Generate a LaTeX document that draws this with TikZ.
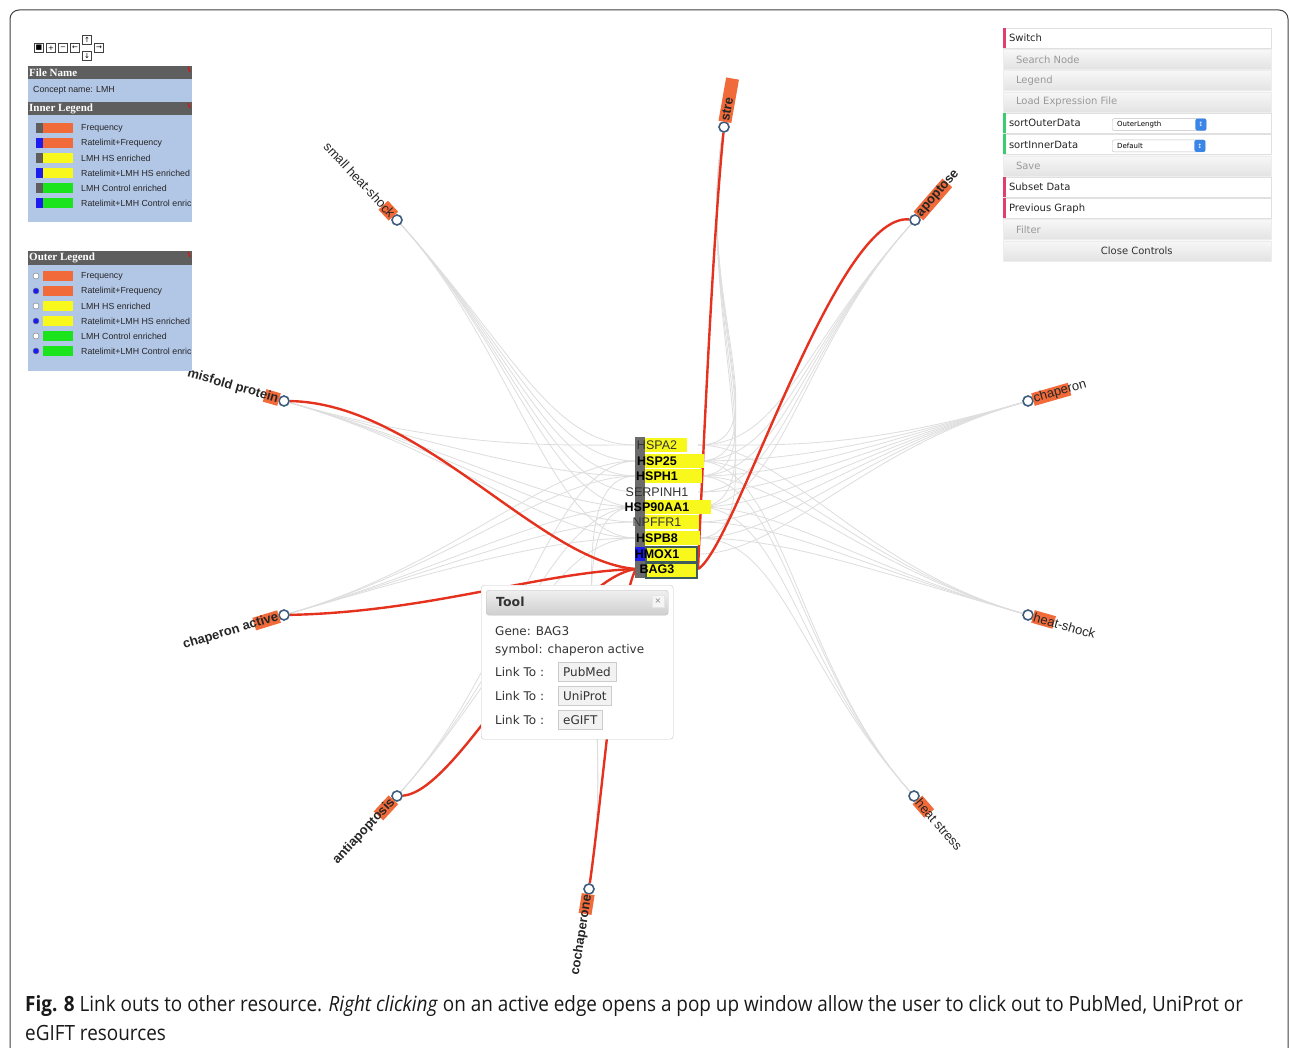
\documentclass[tikz,border=0pt]{standalone}
\usepackage{fontspec}
\setmainfont{Liberation Sans}
\newfontfamily\uifont{DejaVu Sans}
\newfontfamily\headfont{Liberation Serif}
\newfontfamily\capfont[FakeStretch=0.9]{Open Sans}
\usetikzlibrary{calc,positioning}
\pgfdeclarelayer{bg}
\pgfsetlayers{bg,main}

\definecolor{hlorange}{HTML}{F06A3A}
\definecolor{legyellow}{HTML}{F8F81C}
\definecolor{leggreen}{HTML}{1CE41C}
\definecolor{legblue}{HTML}{1C1CEE}
\definecolor{panelblue}{HTML}{B2C6E6}
\definecolor{headgray}{HTML}{5E5E5E}
\definecolor{edgegray}{HTML}{DEDEDE}
\definecolor{edgered}{HTML}{E5321E}
\definecolor{ringblue}{HTML}{3D5D7C}
\definecolor{boxslate}{HTML}{3F5C5C}
\definecolor{stripered}{HTML}{DE3F6E}
\definecolor{stripegreen}{HTML}{3CCB6E}
\definecolor{selblue}{HTML}{3A86E8}

\tikzset{
  grayedge/.style={draw=edgegray, line width=0.85pt},
  rededge/.style={draw=edgered, line width=2.4pt},
  ocirc/.style={circle, draw=ringblue, fill=white, line width=1.6pt, minimum size=10pt, inner sep=0pt},
  hlbar/.style={fill=hlorange, minimum height=13pt, inner sep=0pt},
  olabel-b/.style={font=\fontsize{13}{15}\selectfont\bfseries, text=black!85, inner sep=0pt},
  olabel-n/.style={font=\fontsize{13}{15}\selectfont, text=black!85, inner sep=0pt},
  gname-b/.style={font=\fontsize{12.5}{14}\selectfont\bfseries, inner sep=0pt},
  gname-n/.style={font=\fontsize{12.5}{14}\selectfont, text=black!80, inner sep=0pt},
  genebar/.style={fill=legyellow},
  genebox/.style={fill=legyellow, draw=boxslate, line width=1.5pt, inner sep=0pt, minimum width=51pt, minimum height=15pt, anchor=north west},
  % controls panel
  row-r/.style={fill=white, draw=black!12, minimum width=268pt, minimum height=20pt, inner sep=0pt},
  row-s/.style={row-r},
  row-g/.style={top color=black!3, bottom color=black!11, draw=black!7, minimum width=268pt, minimum height=20pt, inner sep=0pt},
  row-c/.style={row-g},
  stripe-r/.style={fill=stripered},
  stripe-s/.style={fill=stripegreen},
  stripe-g/.style={},
  stripe-c/.style={},
  rowtxt-r/.style={font=\uifont\fontsize{10}{12}\selectfont, text=black!85, anchor=west, xshift=6pt, inner sep=0pt},
  rowtxt-s/.style={rowtxt-r},
  rowtxt-g/.style={font=\uifont\fontsize{10}{12}\selectfont, text=black!40, anchor=west, xshift=13pt, inner sep=0pt},
  rowtxt-c/.style={font=\uifont\fontsize{10}{12}\selectfont, text=black!80, anchor=center, xshift=134pt, inner sep=0pt},
  dropbox/.style={draw=black!25, fill=white, rounded corners=2pt, minimum height=12pt, text width=84pt, inner xsep=5pt, inner ysep=0pt, align=left, anchor=west, font=\uifont\fontsize{7}{8}\selectfont},
  selarrow/.style={fill=selblue, rounded corners=2pt, minimum width=11pt, minimum height=12pt, inner sep=0pt, text=white, font=\uifont\fontsize{6}{6}\selectfont},
  % pop up
  popup/.style={draw=black!22, fill=white, rounded corners=3pt, inner sep=0pt, anchor=north west},
  pophead/.style={top color=black!6, bottom color=black!19, draw=black!25, rounded corners=3pt, inner sep=0pt, anchor=north west},
  poptxt/.style={font=\uifont\fontsize{12}{14}\selectfont, text=black!80, anchor=west, inner sep=0pt},
  linkbtn/.style={draw=black!20, fill=black!5, font=\uifont\fontsize{12}{14}\selectfont, text=black!80, inner xsep=5pt, inner ysep=0pt, minimum height=19pt, anchor=west},
  closebox/.style={fill=black!4, draw=black!10, minimum size=12pt, inner sep=0pt, font=\uifont\fontsize{8}{8}\selectfont, text=black!50},
  % legends
  panel/.style={fill=panelblue, inner sep=0pt, anchor=north west, minimum width=164pt},
  panelhead/.style={fill=headgray, inner sep=0pt, anchor=north west, minimum width=164pt, minimum height=13pt},
  headtext/.style={font=\headfont\fontsize{11}{12}\selectfont\bfseries, text=white, anchor=west, inner sep=1pt},
  legtext/.style={font=\fontsize{8.8}{10}\selectfont, text=black!85, anchor=west, inner sep=0pt},
  icon/.style={draw=black!75, fill=white, minimum size=9pt, inner sep=0pt, font=\uifont\fontsize{7}{7}\selectfont},
  captxt/.style={font=\capfont\fontsize{21}{24}\selectfont, text=black!90, anchor=west, inner sep=0pt},
}

\begin{document}
\begin{tikzpicture}[x=1pt,y=-1pt]
\useasboundingbox (0,0) rectangle (1290,1048);

% frame
\draw[line width=1pt, black!75, rounded corners=9pt] (10,1048) -- (10,10) -- (1288,10) -- (1288,1048);

\coordinate (ctr) at (656,508);

% gene stack
\fill[black!58] (635,437) rectangle (645,578);
\foreach \g/\gy/\yr in {HSPA2/445/687, HSP25/461/704, HSPH1/476/702, SERPINH1/492/645, HSP90AA1/507/711, NPFFR1/522/699, HSPB8/538/700}
  \fill[genebar] (645,\gy-7) rectangle (\yr,\gy+7);
\node[genebox] (HMOX1-box) at (645,546) {};
\node[genebox] (BAG3-box) at (645,562) {};
\fill[legblue] (635,547) rectangle (645,561);

\foreach \g/\gy/\w in {HSPA2/445/n, HSP25/461/b, HSPH1/476/b, SERPINH1/492/n, HSP90AA1/507/b, NPFFR1/522/n, HSPB8/538/b, HMOX1/554/b, BAG3/569/b}{
  \node[gname-\w] (\g) at (657,\gy) {\g};
  \coordinate (\g-l) at (636,\gy);
  \coordinate (\g-r) at (698,\gy);
}

% outer ring
\foreach \n/\ox/\oy in {stre/724/127, apo/915/220, chp/1028/401, hts/1028/615, hst/914/796, coc/589/889, aap/397/796, cha/284/615, mfp/284/401, shs/397/220}
  \node[ocirc] (\n) at (\ox,\oy) {};

% labels, right half
\foreach \n/\a/\len/\txt/\w in {stre/80/44/stre/b, apo/49/44/apoptose/b, chp/16/38/chaperon/n, hts/-16/22/heat-shock/n, hst/-49/18/heat stress/n}{
  \node[hlbar, minimum width=\len pt, rotate=\a, anchor=west] (\n-hl) at ($(\n)+(\a:5pt)$) {};
  \node[olabel-\w, rotate=\a, anchor=west] (\n-txt) at ($(\n)+(\a:6pt)$) {\txt};
}
% labels, left half
\foreach \n/\a/\len/\txt/\w in {coc/81/20/cochaperone/b, aap/47/22/antiapoptosis/b, cha/17/26/chaperon active/b, mfp/-16/15/misfold protein/b, shs/-47/15/small heat-shock/n}{
  \node[hlbar, minimum width=\len pt, rotate=\a, anchor=east] (\n-hl) at ($(\n)+(\a+180:5pt)$) {};
  \node[olabel-\w, rotate=\a, anchor=east] (\n-txt) at ($(\n)+(\a+180:6pt)$) {\txt};
}

\begin{pgfonlayer}{bg}
% inactive edges
\foreach \n/\gs in {shs/{HSPA2,HSP25,HSPH1,SERPINH1,HSP90AA1,HSPB8}, mfp/{HSPA2,HSPH1,HSP90AA1,NPFFR1,HSPB8}, cha/{HSP25,HSPH1,HSP90AA1,NPFFR1,HSPB8}, aap/{HSP25,HSP90AA1,HSPB8}, coc/{HSPH1,HSP90AA1}}
  \foreach \g in \gs
    \draw[grayedge] (\n) .. controls ($(\n)!0.45!(ctr)$) and ($(\g-l)+(-85,0)$) .. (\g-l);
\foreach \n/\gs in {stre/{HSPA2,HSP25,HSPH1,HSP90AA1,HSPB8}, apo/{HSPA2,HSP25,HSPH1,SERPINH1,HSP90AA1}, chp/{HSPA2,HSP25,HSPH1,SERPINH1,HSP90AA1,NPFFR1,HSPB8,HMOX1}, hts/{HSPA2,HSP25,HSPH1,HSP90AA1,NPFFR1,HSPB8}, hst/{HSP25,HSPH1,HSP90AA1,HSPB8}}
  \foreach \g in \gs
    \draw[grayedge] (\n) .. controls ($(\n)!0.45!(ctr)$) and ($(\g-r)+(85,0)$) .. (\g-r);
% active edges
\draw[rededge] (mfp) .. controls (420,403) and (540,562) .. (BAG3-l);
\draw[rededge] (cha) .. controls (430,612) and (540,572) .. (BAG3-l);
\draw[rededge] (aap) .. controls (460,792) and (560,580) .. (BAG3-l);
\draw[rededge] (coc) .. controls (603,790) and (618,600) .. (BAG3-l);
\draw[rededge] (stre) .. controls (712,250) and (703,460) .. (BAG3-r);
\draw[rededge] (apo) .. controls (835,212) and (735,548) .. (BAG3-r);
\end{pgfonlayer}

% pop up window
\node[popup, minimum width=192pt, minimum height=154pt] (tool) at (481,585) {};
\node[pophead, minimum width=182pt, minimum height=25pt] (toolhead) at (486,590) {};
\node[poptxt, font=\uifont\fontsize{12.5}{14}\selectfont\bfseries] (tooltitle) at (496,602) {Tool};
\node[closebox] (toolx) at (658,601) {×};
\node[poptxt] (gene) at (495,631) {Gene: BAG3};
\node[poptxt] (symb) at (495,650) {symbol: chaperon active};
\foreach \b/\by [count=\i] in {PubMed/672, UniProt/696, eGIFT/720}{
  \node[poptxt] (link\i) at (495,\by) {Link To :};
  \node[linkbtn] (btn\i) at (558,\by) {\b};
}

% controls
\foreach \txt/\k [count=\i from 0] in {Switch/r, Search Node/g, Legend/g, Load Expression File/g, sortOuterData/s, sortInnerData/s, Save/g, Subset Data/r, Previous Graph/r, Filter/g, Close Controls/c}{
  \pgfmathsetmacro\ry{38+21.3*\i}
  \node[row-\k] (row\i) at (1137,\ry) {};
  \path[stripe-\k] (1003,\ry-10) rectangle (1006,\ry+10);
  \node[rowtxt-\k] (rowtxt\i) at (row\i.west) {\txt};
}
\node[dropbox] (outersel) at (1112,124.6) {OuterLength};
\node[selarrow] (outerarr) at ($(outersel.east)+(-5.5,0)$) {↕};
\node[dropbox, text width=83pt] (innersel) at (1112,145.9) {Default};
\node[selarrow] (innerarr) at ($(innersel.east)+(-5.5,0)$) {↕};

% tool icons
\foreach \n/\ix/\iy/\sym in {ic1/39/48/■, ic2/51/48/+, ic3/63/48/−, ic4/75/48/←, ic5/87/40/↑, ic6/87/56/↓, ic7/99/48/→}
  \node[icon] (\n) at (\ix,\iy) {\sym};

% inner legend
\node[panel, minimum height=156pt] (filepanel) at (28,66) {};
\node[panelhead] (filehead) at (28,66) {};
\node[headtext] (filetitle) at (filehead.west) {File Name};
\draw[red, line width=1pt] (188,67) -- (190,72);
\node[legtext] (concept) at (33,90) {Concept name: LMH};
\node[panelhead] (innerhead) at (28,102) {};
\node[headtext] (innertitle) at (innerhead.west) {Inner Legend};
\draw[red, line width=1pt] (188,103) -- (190,108);
\foreach \t/\sq/\col [count=\i from 0] in {Frequency/headgray/hlorange, Ratelimit+Frequency/legblue/hlorange, LMH HS enriched/headgray/legyellow, Ratelimit+LMH HS enriched/legblue/legyellow, LMH Control enriched/headgray/leggreen, Ratelimit+LMH Control enric/legblue/leggreen}{
  \pgfmathsetmacro\ey{128+15*\i}
  \fill[\sq] (36,\ey-5) rectangle (43,\ey+5);
  \fill[\col] (43,\ey-5) rectangle (73,\ey+5);
  \node[legtext] (ileg\i) at (81,\ey) {\t};
}

% outer legend
\node[panel, minimum height=120pt] (outerpanel) at (28,251) {};
\node[panelhead, minimum height=14pt] (outerhead) at (28,251) {};
\node[headtext] (outertitle) at (outerhead.west) {Outer Legend};
\draw[red, line width=1pt] (188,252) -- (190,257);
\foreach \t/\dot/\col [count=\i from 0] in {Frequency/white/hlorange, Ratelimit+Frequency/legblue/hlorange, LMH HS enriched/white/legyellow, Ratelimit+LMH HS enriched/legblue/legyellow, LMH Control enriched/white/leggreen, Ratelimit+LMH Control enric/legblue/leggreen}{
  \pgfmathsetmacro\ey{276+15*\i}
  \node[circle, draw=black!55, fill=\dot, minimum size=6pt, inner sep=0pt] (odot\i) at (36,\ey) {};
  \fill[\col] (43,\ey-5) rectangle (73,\ey+5);
  \node[legtext] (oleg\i) at (81,\ey) {\t};
}

% caption
\node[captxt] (cap1) at (25,1006) {{\bfseries Fig. 8} Link outs to other resource. \emph{Right clicking} on an active edge opens a pop up window allow the user to click out to PubMed, UniProt or};
\node[captxt] (cap2) at (25,1033) {eGIFT resources};
\end{tikzpicture}
\end{document}
